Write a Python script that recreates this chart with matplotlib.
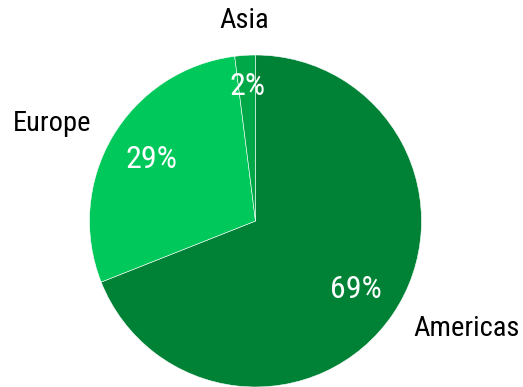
import numpy as np
import matplotlib
matplotlib.use('Agg')
import matplotlib.pyplot as plt

# data
regions = ['Americas', 'Europe', 'Asia']
shares = [69, 29, 2]
colors = ['#008236', '#00c85a', '#00a847']

plt.rcParams['font.family'] = ['Roboto Condensed', 'DejaVu Sans']

W, H = 523, 387
fig = plt.figure(figsize=(W / 100, H / 100), dpi=100)
# pie box in pixels: center (255.5, 221), radius 166
r_px = 166
ax = fig.add_axes([(255.5 - r_px) / W, (H - 221 - r_px) / H, 2 * r_px / W, 2 * r_px / H])
ax.axis('off')

wedges, _ = ax.pie(shares, colors=colors, startangle=90, counterclock=False,
                   radius=1, center=(0, 0), frame=False,
                   wedgeprops=dict(edgecolor='white', linewidth=0.4))
ax.set_xlim(-1, 1)
ax.set_ylim(-1, 1)

for w, name, pct in zip(wedges, regions, shares):
    ang = np.deg2rad((w.theta1 + w.theta2) / 2)
    c, s = np.cos(ang), np.sin(ang)
    # outer label
    if abs(c) < 0.3:
        ha = 'center'
        va = 'bottom' if s > 0 else 'top'
        dist = 1.13
    else:
        ha = 'left' if c > 0 else 'right'
        va = 'center'
        dist = 1.15
    ax.text(dist * c, dist * s, name, ha=ha, va=va, fontsize=20.5, color='black', clip_on=False)
    # percentage inside
    d = 0.81 if pct < 5 else 0.73
    ax.text(d * c, d * s, f'{pct}%', ha='center', va='center', fontsize=23,
            color='white', clip_on=False)

fig.savefig('out.png', dpi=100)
